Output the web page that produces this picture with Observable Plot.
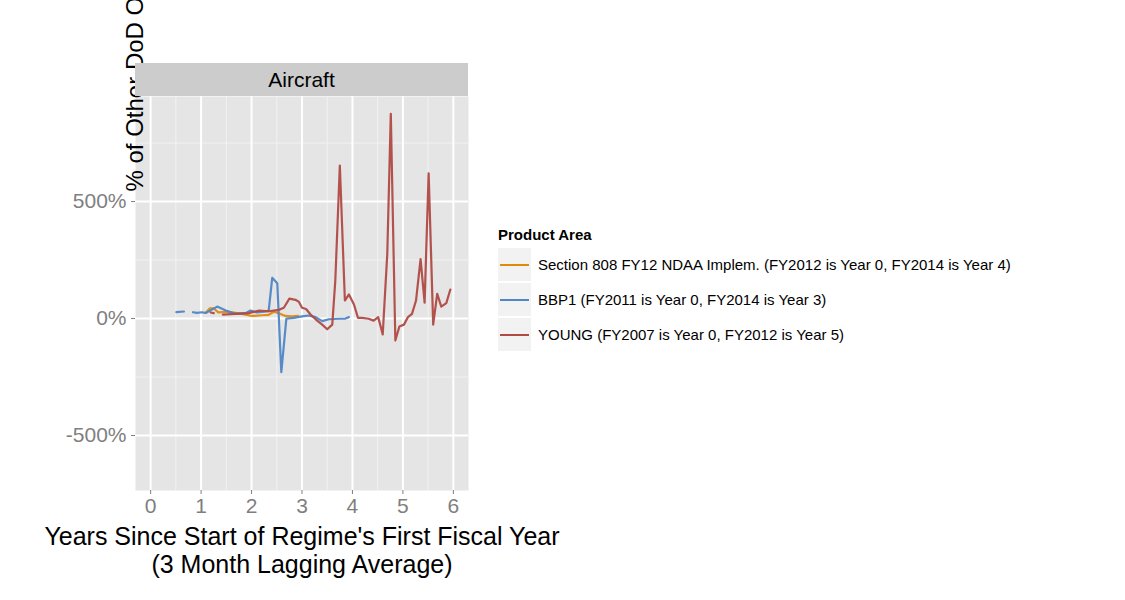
<!DOCTYPE html>
<html><head><meta charset="utf-8">
<script src="https://cdn.jsdelivr.net/npm/d3@7"></script>
<script src="https://cdn.jsdelivr.net/npm/@observablehq/plot@0.6"></script>
<style>
body{margin:0;background:#fff;font-family:"Liberation Sans",Arial,sans-serif}
#wrap{position:relative;width:1125px;height:600px}
.strip{position:absolute;left:135px;top:63px;width:333px;height:33px;background:#cccccc;font-size:21px;text-align:center;line-height:34px}
.leg{position:absolute;left:498px;top:226px;font-size:15px}
.leg .t{font-weight:bold;font-size:15px;margin-bottom:4px}
.leg .row{display:flex;align-items:center;height:35px}
.leg .key{width:33px;height:33px;background:#f2f2f2;display:flex;align-items:center;justify-content:center;margin-right:7px}
.leg .key span{display:block;width:29px;height:2px}
</style></head><body>
<div id="wrap"><div id="chart"></div><div class="strip">Aircraft</div><div class="leg" id="leg"></div></div>
<script>
const series = ["Section 808 FY12 NDAA Implem. (FY2012 is Year 0, FY2014 is Year 4)", "BBP1 (FY2011 is Year 0, FY2014 is Year 3)", "YOUNG (FY2007 is Year 0, FY2012 is Year 5)"]
const colors = ["#e08a0b", "#4f86c6", "#b04a45"]

const s808Years = [1.09,1.17,1.25,1.34,1.55,1.81,2.01,2.21,2.34,2.44,2.54,2.67,2.8,2.92]
const s808Vals  = [24,43,43,26,29,20,11,14,16,29,23,11,9,11]

const bbpYears = [0.51,0.66,0.75,0.84,0.92,1.01,1.09,1.32,1.49,1.68,1.88,1.98,2.11,2.24,2.34,2.41,2.51,2.59,2.69,2.84,3.0,3.13,3.27,3.4,3.53,3.73,3.86,3.93]
const bbpVals  = [27,30,null,27,24,27,24,51,34,20,23,34,26,29,34,174,151,-229,0,3,9,13,6,-11,-3,-1,0,6]

const youngYears = [1.19,1.25,1.34,1.43,1.68,1.95,2.15,2.34,2.54,2.64,2.75,2.87,2.94,3.0,3.08,3.17,3.3,3.4,3.5,3.6,3.66,3.75,3.85,3.93,4.03,4.11,4.19,4.32,4.42,4.51,4.6,4.69,4.76,4.85,4.93,5.02,5.1,5.18,5.26,5.35,5.43,5.51,5.6,5.68,5.76,5.86,5.94]
const youngVals  = [26,23,null,17,20,23,34,31,37,46,85,80,71,46,41,17,-9,-26,-46,-26,162,654,77,103,60,3,3,-1,-9,6,-68,276,875,-94,-34,-26,6,20,77,254,68,621,-26,106,51,66,124]

const rows = []
;[[s808Years,s808Vals],[bbpYears,bbpVals],[youngYears,youngVals]].forEach(([xs,vs],i)=>{
  xs.forEach((x,j)=>rows.push({series:series[i], x, y:vs[j]}))
})

const chart = Plot.plot({
  width: 1125, height: 600,
  marginLeft: 135, marginRight: 657, marginTop: 96, marginBottom: 110,
  x: {domain: [-0.3, 6.3]},
  y: {domain: [-735, 949]},
  color: {domain: series, range: colors},
  style: {fontFamily: '"Liberation Sans", Arial, sans-serif', background: "#fff"},
  marks: [
    Plot.frame({fill: "#e5e5e5", stroke: null}),
    Plot.gridX(d3.range(0.5, 6.1, 1), {stroke: "#f2f2f2", strokeOpacity: 1, strokeWidth: 1}),
    Plot.gridY([-250, 250, 750], {stroke: "#f2f2f2", strokeOpacity: 1, strokeWidth: 1}),
    Plot.gridX(d3.range(0, 7), {stroke: "#fff", strokeOpacity: 1, strokeWidth: 2}),
    Plot.gridY([-500, 0, 500], {stroke: "#fff", strokeOpacity: 1, strokeWidth: 2}),
    Plot.axisX(d3.range(0, 7), {label: null, fontSize: 21, fill: "#7f7f7f", tickSize: 4, stroke: "#7f7f7f", tickPadding: 4}),
    Plot.axisY([-500, 0, 500], {label: null, fontSize: 21, fill: "#7f7f7f", tickSize: 4, stroke: "#7f7f7f", tickFormat: d => d + "%"}),
    Plot.line(rows, {x: "x", y: "y", z: "series", stroke: "series", strokeWidth: 2.2, strokeOpacity: 0.95}),
    Plot.text(["Years Since Start of Regime's First Fiscal Year"], {frameAnchor: "bottom", dy: 54, fontSize: 25, fill: "#000"}),
    Plot.text(["(3 Month Lagging Average)"], {frameAnchor: "bottom", dy: 82, fontSize: 25, fill: "#000"}),
    Plot.text(["% of Other DoD Obligations"], {frameAnchor: "left", dy: -102, rotate: -90, fontSize: 24, fill: "#000"})
  ]
})
d3.select("#chart").append(() => chart)

const leg = d3.select("#leg")
leg.append("div").attr("class", "t").text("Product Area")
series.forEach((s, i) => {
  const r = leg.append("div").attr("class", "row")
  r.append("div").attr("class", "key").append("span").style("background", colors[i])
  r.append("div").text(s)
})
</script>
</body></html>
